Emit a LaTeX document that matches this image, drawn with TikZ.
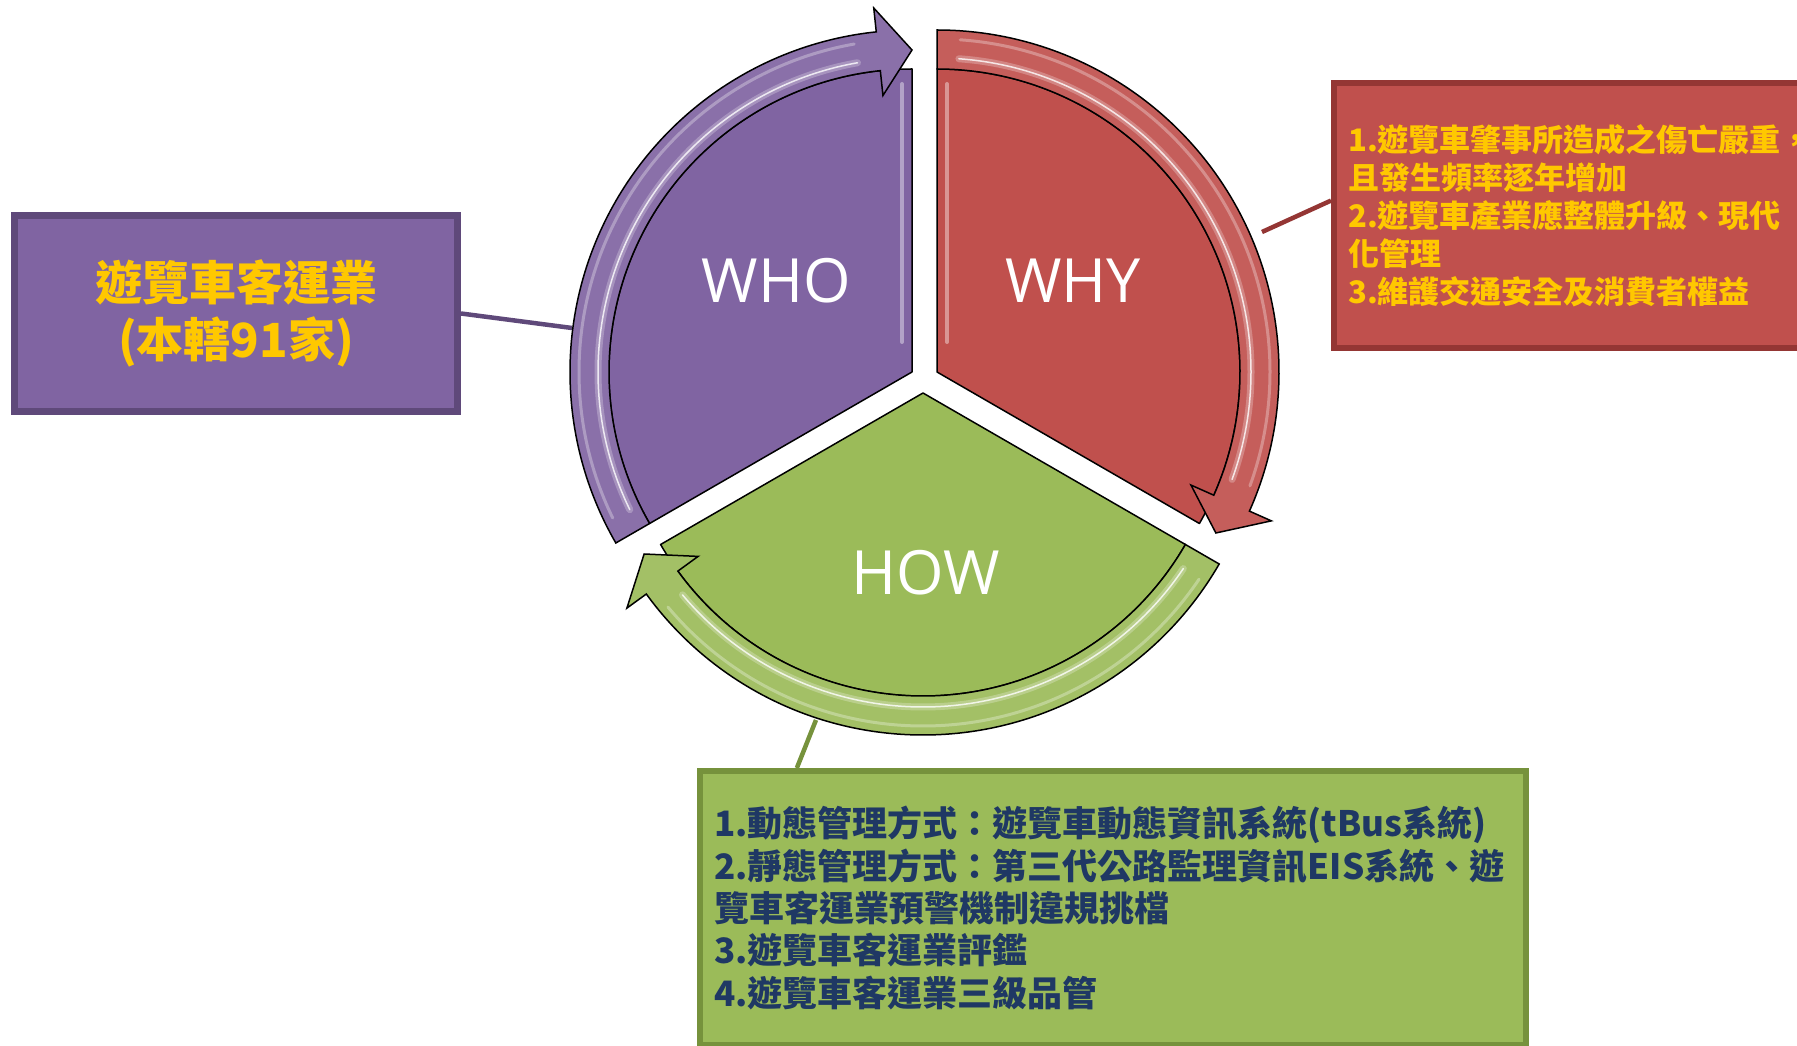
\documentclass[tikz,border=0pt]{standalone}
\usepackage{fontspec}
\newfontfamily\cjkfont{Noto Sans CJK TC}
\newfontfamily\wordfont{Open Sans}
\usetikzlibrary{calc}

\definecolor{whofill}{HTML}{8064A2}
\definecolor{whodark}{HTML}{5F497A}
\definecolor{whyfill}{HTML}{C0504D}
\definecolor{whydark}{HTML}{943634}
\definecolor{howfill}{HTML}{9BBB59}
\definecolor{howdark}{HTML}{76923C}
\definecolor{boxgold}{HTML}{FFC800}
\definecolor{boxnavy}{HTML}{1F3864}

\begin{document}
\begin{tikzpicture}[x=1pt,y=1pt,
sector/.style={
	% The border:
	draw=black, line width=1.5pt, line join=round},
band/.style={
	% The border:
	draw=black, line width=1.5pt, line join=miter},
gloss/.style={
	% a light streak on the arrows
	draw=white, line cap=round},
cycleword/.style={
	% Font
	text=white, font=\wordfont\fontsize{61}{61}\selectfont},
infobox/.style={
	% The shape:
	rectangle, inner sep=0pt},
infotext/.style={
	% The text:
	anchor=west, inner sep=0pt, align=left},
linkline/.style={line width=4.5pt}]

\useasboundingbox (0,0) rectangle (1797,1045);
\clip (0,0) rectangle (1797,1045);

%Begin connectors
\coordinate (whoend) at (572,717);
\coordinate (whyend) at (1262,813);
\coordinate (howend) at (816,325);

%Begin boxes
\node (whobox) [infobox,draw=whodark,fill=whofill,line width=7pt,
	minimum width=443pt,minimum height=196pt,align=center,text=boxgold,
	font=\cjkfont\bfseries\fontsize{47}{57}\selectfont] at (236,731.5)
	{遊覽車客運業\\(本轄91家)};
\node (whybox) [infobox,draw=whydark,fill=whyfill,line width=6pt,
	minimum width=563pt,minimum height=265pt] at (1615.5,829.5) {};
\node (howbox) [infobox,draw=howdark,fill=howfill,line width=6pt,
	minimum width=826pt,minimum height=274pt] at (1113,137) {};

\node (whytext) [infotext,text=boxgold,
	font=\cjkfont\bfseries\fontsize{31}{38}\selectfont] at ([xshift=17pt]whybox.west)
	{1.遊覽車肇事所造成之傷亡嚴重，\\
	 且發生頻率逐年增加\\
	 2.遊覽車產業應整體升級、現代\\
	 化管理\\
	 3.維護交通安全及消費者權益};
\node (howtext) [infotext,text=boxnavy,
	font=\cjkfont\bfseries\fontsize{35}{42.4}\selectfont] at ([xshift=17pt]howbox.west)
	{1.動態管理方式：遊覽車動態資訊系統(tBus系統)\\
	 2.靜態管理方式：第三代公路監理資訊EIS系統、遊\\
	 覽車客運業預警機制違規挑檔\\
	 3.遊覽車客運業評鑑\\
	 4.遊覽車客運業三級品管};

\draw[linkline,whodark] (whobox.east) -- (whoend);
\draw[linkline,whydark] (whyend) -- (whybox.177);
\draw[linkline,howdark] (howend) -- ($(howbox.north west)!0.12!(howbox.north east)$);

%Begin cycle
\coordinate (whoC) at (912,673);
\coordinate (whyC) at (937,673);
\coordinate (howC) at (923,652);

% HOW
\path[sector,fill=howfill] (howC) -- ($(howC)+(330:303)$)
	arc[start angle=330,end angle=210,radius=303] -- cycle;
\path[band,fill=howfill!92!white] ($(howC)+(330:342)$)
	arc[start angle=330,end angle=216,radius=342] -- ($(howC)+(216:366)$)
	-- ($(howC)+(210:322)$) -- ($(howC)+(216:278)$) -- ($(howC)+(216:303)$)
	arc[start angle=216,end angle=330,radius=303] -- cycle;
\draw[gloss,line width=7pt,opacity=.25] ($(howC)+(326:314)$) arc[start angle=326,end angle=220,radius=314];
\draw[gloss,line width=1.5pt,opacity=.8] ($(howC)+(326:314)$) arc[start angle=326,end angle=220,radius=314];
\draw[gloss,line width=3pt,opacity=.3] ($(howC)+(326:333)$) arc[start angle=326,end angle=220,radius=333];

% WHO
\path[sector,fill=whofill] (whoC) -- ($(whoC)+(210:303)$)
	arc[start angle=210,end angle=90,radius=303] -- cycle;
\path[band,fill=whofill!92!white] ($(whoC)+(210:342)$)
	arc[start angle=210,end angle=96,radius=342] -- ($(whoC)+(96:366)$)
	-- ($(whoC)+(90:322)$) -- ($(whoC)+(96:278)$) -- ($(whoC)+(96:303)$)
	arc[start angle=96,end angle=210,radius=303] -- cycle;
\draw[gloss,line width=7pt,opacity=.25] ($(whoC)+(206:314)$) arc[start angle=206,end angle=100,radius=314];
\draw[gloss,line width=1.5pt,opacity=.8] ($(whoC)+(206:314)$) arc[start angle=206,end angle=100,radius=314];
\draw[gloss,line width=3pt,opacity=.3] ($(whoC)+(206:333)$) arc[start angle=206,end angle=100,radius=333];
\draw[gloss,line width=4pt,opacity=.4] ($(whoC)+(-10,30)$) -- ($(whoC)+(-10,288)$);

% WHY
\path[sector,fill=whyfill] (whyC) -- ($(whyC)+(90:303)$)
	arc[start angle=90,end angle=-30,radius=303] -- cycle;
\path[band,fill=whyfill!92!white] ($(whyC)+(90:342)$)
	arc[start angle=90,end angle=-24,radius=342] -- ($(whyC)+(-24:366)$)
	-- ($(whyC)+(-30:322)$) -- ($(whyC)+(-24:278)$) -- ($(whyC)+(-24:303)$)
	arc[start angle=-24,end angle=90,radius=303] -- cycle;
\draw[gloss,line width=7pt,opacity=.25] ($(whyC)+(86:314)$) arc[start angle=86,end angle=-20,radius=314];
\draw[gloss,line width=1.5pt,opacity=.8] ($(whyC)+(86:314)$) arc[start angle=86,end angle=-20,radius=314];
\draw[gloss,line width=3pt,opacity=.3] ($(whyC)+(86:333)$) arc[start angle=86,end angle=-20,radius=333];
\draw[gloss,line width=4pt,opacity=.4] ($(whyC)+(10,30)$) -- ($(whyC)+(10,288)$);

\node (who) [cycleword] at (776,764) {WHO};
\node (why) [cycleword] at (1073,764) {WHY};
\node (how) [cycleword] at (926,472) {HOW};

\end{tikzpicture}
\end{document}
